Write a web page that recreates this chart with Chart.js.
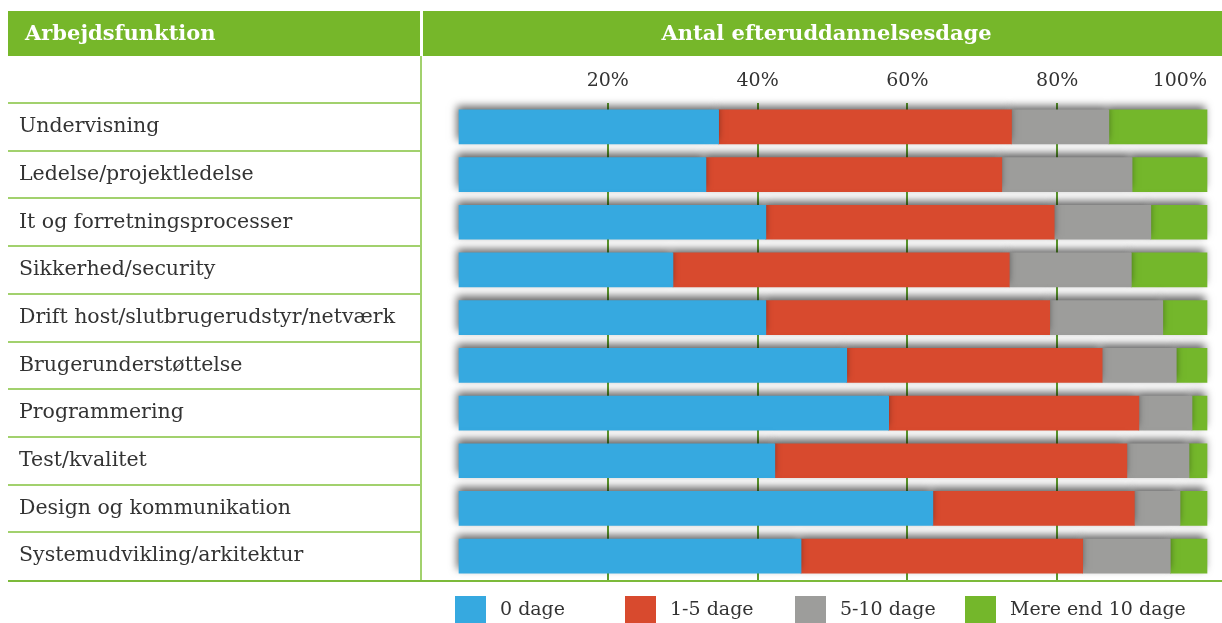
<!DOCTYPE html>
<html>
<head>
<meta charset="utf-8">
<script src="https://cdn.jsdelivr.net/npm/chart.js@4"></script>
<style>
  html, body { margin: 0; padding: 0; background: #fff; }
  #wrap { width: 1222px; height: 623px; }
</style>
</head>
<body>
<div id="wrap"><canvas id="chart" width="1222" height="623"></canvas></div>
<script>
// Efteruddannelsesdage pr. arbejdsfunktion, andel i procent
const functions = [
  "Undervisning",
  "Ledelse/projektledelse",
  "It og forretningsprocesser",
  "Sikkerhed/security",
  "Drift host/slutbrugerudstyr/netværk",
  "Brugerunderstøttelse",
  "Programmering",
  "Test/kvalitet",
  "Design og kommunikation",
  "Systemudvikling/arkitektur",
];
const days0     = [34.8, 33.1, 41.1, 28.7, 41.1, 51.9, 57.5, 42.3, 63.4, 45.8];
const days1to5  = [39.1, 39.5, 38.5, 44.9, 37.9, 34.1, 33.4, 47.0, 26.9, 37.6];
const days5to10 = [13.0, 17.4, 12.9, 16.3, 15.1,  9.9,  7.1,  8.3,  6.1, 11.7];
const daysOver10 = [13.1, 10.0, 7.5, 10.1,  5.9,  4.1,  2.0,  2.4,  3.6,  4.9];
const seriesLabels = ["0 dage", "1-5 dage", "5-10 dage", "Mere end 10 dage"];
const tickValues = [0, 20, 40, 60, 80, 100];

const BLUE = "#36a9e0", RED = "#d84a2e", GREY = "#9d9d9b", GREEN = "#74b72b";
const HEAD_GREEN = "#76b72a", LINE_GREEN = "#a2d16d", GRID_GREEN = "#5d9c2c";
const SERIF = "'DejaVu Serif', serif";
const TEXT = "#333";

// Table frame, header and legend around the plot
const tableFrame = {
  id: "tableFrame",
  beforeDraw(chart) {
    const { ctx, chartArea: a } = chart;
    const band = (a.bottom - a.top) / functions.length;
    const divX = 421, left = 8, headTop = 11, headBottom = 56;
    ctx.save();
    ctx.fillStyle = HEAD_GREEN;
    ctx.fillRect(left, headTop, divX - 1 - left, headBottom - headTop);
    ctx.fillRect(divX + 2, headTop, chart.width - divX - 2, headBottom - headTop);
    ctx.fillStyle = "#fff";
    ctx.font = "bold 21px " + SERIF;
    ctx.textBaseline = "middle";
    ctx.textAlign = "left";
    ctx.fillText("Arbejdsfunktion", 25, (headTop + headBottom) / 2 + 1);
    ctx.textAlign = "center";
    ctx.fillText("Antal efteruddannelsesdage", (divX + chart.width) / 2 + 5, (headTop + headBottom) / 2 + 1);

    ctx.strokeStyle = LINE_GREEN;
    ctx.lineWidth = 2;
    for (let i = 0; i < functions.length; i++) {
      const y = Math.round(a.top + i * band);
      ctx.beginPath();
      ctx.moveTo(left, y);
      ctx.lineTo(divX - 1, y);
      ctx.stroke();
    }
    ctx.beginPath();
    ctx.moveTo(divX, headBottom);
    ctx.lineTo(divX, a.bottom);
    ctx.stroke();
    ctx.strokeStyle = "#7cba3a";
    ctx.beginPath();
    ctx.moveTo(left, a.bottom + 1);
    ctx.lineTo(chart.width, a.bottom + 1);
    ctx.stroke();
    ctx.restore();
  },
  afterDraw(chart) {
    const { ctx } = chart;
    ctx.save();
    ctx.font = "19px " + SERIF;
    ctx.textBaseline = "middle";
    ctx.textAlign = "left";
    chart.data.datasets.forEach((ds, i) => {
      const x = 455 + i * 170;
      ctx.fillStyle = ds.backgroundColor;
      ctx.fillRect(x, 596, 31, 31);
      ctx.fillStyle = TEXT;
      ctx.fillText(ds.label, x + 45, 610);
    });
    ctx.restore();
  },
};

// Soft drop shadow on the bar segments
const barShadow = {
  id: "barShadow",
  beforeDatasetsDraw(chart) {
    const ctx = chart.ctx;
    ctx.save();
    ctx.shadowColor = "rgba(0,0,0,0.6)";
    ctx.shadowBlur = 8;
    ctx.shadowOffsetX = -2;
    ctx.shadowOffsetY = -4;
  },
  afterDatasetsDraw(chart) {
    chart.ctx.restore();
  },
};

const mk = (label, data, color) => ({
  label, data, backgroundColor: color, borderWidth: 0,
  barThickness: 34, clip: false,
});

new Chart(document.getElementById("chart"), {
  type: "bar",
  data: {
    labels: functions,
    datasets: [
      mk(seriesLabels[0], days0, BLUE),
      mk(seriesLabels[1], days1to5, RED),
      mk(seriesLabels[2], days5to10, GREY),
      mk(seriesLabels[3], daysOver10, GREEN),
    ],
  },
  options: {
    indexAxis: "y",
    responsive: false,
    animation: false,
    layout: { padding: { top: 56, bottom: 43, left: 19, right: 15 } },
    plugins: { legend: { display: false }, tooltip: { enabled: false } },
    scales: {
      x: {
        position: "top",
        stacked: true,
        min: 0, max: 100,
        afterBuildTicks: (s) => { s.ticks = tickValues.map((v) => ({ value: v })); },
        afterFit: (s) => { s.height = 47; },
        border: { display: false },
        grid: {
          drawTicks: false,
          lineWidth: 2,
          color: (c) => (c.tick && (c.tick.value === 0 || c.tick.value === 100)
            ? "rgba(0,0,0,0)" : GRID_GREEN),
        },
        ticks: {
          align: "inner",
          padding: 11,
          color: TEXT,
          font: { family: SERIF, size: 19 },
          callback: (v) => (v === 0 ? "" : v + "%"),
        },
      },
      y: {
        stacked: true,
        afterFit: (s) => { s.width = 439; },
        border: { display: false },
        grid: { display: false },
        ticks: {
          crossAlign: "far",
          color: TEXT,
          font: { family: SERIF, size: 20.5 },
        },
      },
    },
  },
  plugins: [tableFrame, barShadow],
});
</script>
</body>
</html>
